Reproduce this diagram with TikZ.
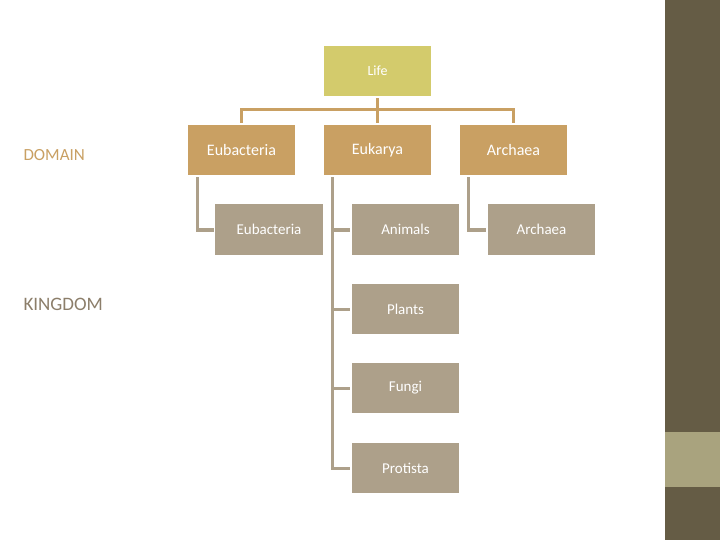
\documentclass[tikz,border=0pt]{standalone}
\usepackage{fontspec}
\setmainfont{Carlito}
\definecolor{lifec}{HTML}{D3CB6C}
\definecolor{domc}{HTML}{C9A063}
\definecolor{kinc}{HTML}{ADA08A}
\definecolor{barc}{HTML}{655C45}
\definecolor{bandc}{HTML}{A9A37E}
\definecolor{kingtxt}{HTML}{8C7E6A}
\begin{document}
\begin{tikzpicture}[x=1pt,y=-1pt,
  box/.style={draw=white,line width=1.2pt,minimum width=109pt,minimum height=52pt,inner sep=0pt,text=white,font=\fontsize{15}{18}\selectfont},
  lifebox/.style={box,fill=lifec,font=\fontsize{14}{17}\selectfont},
  dombox/.style={box,fill=domc,font=\fontsize{16}{19}\selectfont},
  kinbox/.style={box,fill=kinc,font=\fontsize{15}{18}\selectfont},
  dline/.style={domc,line width=3pt},
  kline/.style={kinc,line width=3pt}]
\useasboundingbox (0,0) rectangle (720,540);
\fill[white] (0,0) rectangle (720,540);
\fill[barc] (665,0) rectangle (720,540);
\fill[bandc] (665,432) rectangle (720,487);
\node[font=\fontsize{17}{20}\selectfont,text=domc,anchor=west] (dom) at (20,155) {DOMAIN};
\node[font=\fontsize{19}{22}\selectfont,text=kingtxt,anchor=west] (king) at (20,304) {KINGDOM};
% connectors first
\coordinate (j) at (377,110);
\draw[dline] (377,97) -- (j);
\draw[dline] (241,124) |- (j) -| (513,124);
\draw[dline] (377,110) -- (377,124);
\draw[kline] (197,176) |- (214,230);
\draw[kline] (332,176) |- (351,468);
\draw[kline] (332,230) -- (351,230);
\draw[kline] (332,309) -- (351,309);
\draw[kline] (332,388) -- (351,388);
\draw[kline] (468,176) |- (487,230);
\node[lifebox] (life) at (377.5,71) {Life};
\node[dombox] (eub) at (241.5,150) {Eubacteria};
\node[dombox] (euk) at (377.5,150) {Eukarya};
\node[dombox] (arc) at (513.5,150) {Archaea};
\node[kinbox] (eub2) at (269,229.5) {Eubacteria};
\node[kinbox] (ani) at (405.5,229.5) {Animals};
\node[kinbox] (arc2) at (541.5,229.5) {Archaea};
\node[kinbox] (pla) at (405.5,309) {Plants};
\node[kinbox] (fun) at (405.5,388) {Fungi};
\node[kinbox] (pro) at (405.5,468) {Protista};
\end{tikzpicture}
\end{document}
